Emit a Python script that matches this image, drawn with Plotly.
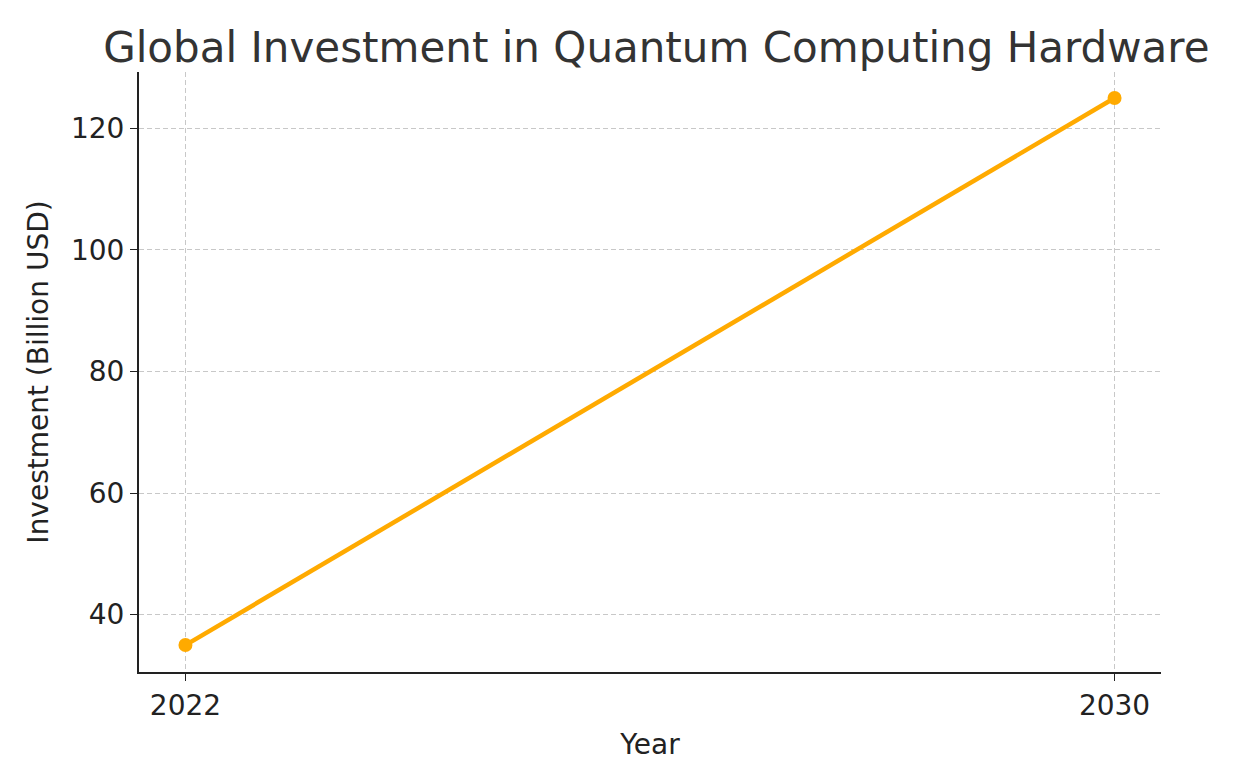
import plotly.graph_objects as go

years = [2022, 2030]
investment = [35, 125]

fig = go.Figure(go.Scatter(
    x=years, y=investment, mode="lines+markers",
    line=dict(color="#FFAA00", width=4.5), marker=dict(size=14, color="#FFAA00"),
))

axis_common = dict(
    showgrid=True, gridcolor="#c8c8c8", griddash="5px,3px", gridwidth=1,
    showline=True, linecolor="#222", linewidth=2, ticks="outside", ticklen=7,
    tickcolor="#222", tickfont=dict(size=28, color="#222"), zeroline=False,
)
fig.update_xaxes(axis_common, range=[2021.6, 2030.4], tickvals=years,
                 title=dict(text="Year", font=dict(size=28, color="#222"), standoff=14))
fig.update_yaxes(axis_common, range=[30.57, 129.27], tickvals=[40, 60, 80, 100, 120],
                 title=dict(text="Investment (Billion USD)", font=dict(size=28, color="#222"), standoff=14))
fig.update_layout(
    width=1254, height=780, plot_bgcolor="white", paper_bgcolor="white",
    font=dict(family="DejaVu Sans"), showlegend=False,
    title=dict(text="Global Investment in Quantum Computing Hardware", x=0.517, xanchor="center",
               y=0.95, yanchor="middle", font=dict(size=42, color="#333")),
    margin=dict(l=131, r=101, t=64, b=116),
)
fig.write_html("out.html")
